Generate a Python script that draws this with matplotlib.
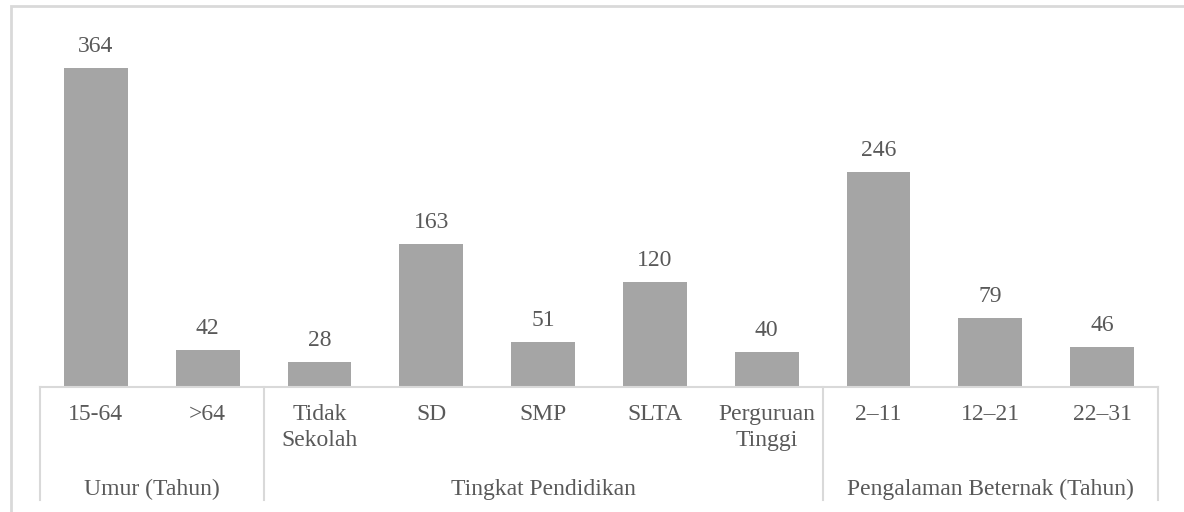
#!/usr/bin/env python3

import matplotlib.pyplot as plt
from matplotlib.transforms import blended_transform_factory
from matplotlib.patches import Rectangle

labels = ['15-64', '>64', 'Tidak\nSekolah', 'SD', 'SMP', 'SLTA',
          'Perguruan\nTinggi', '2\u201311', '12\u201321', '22\u201331']
values = [364, 42, 28, 163, 51, 120, 40, 246, 79, 46]
groups = ['Umur (Tahun)', 'Tingkat Pendidikan', 'Pengalaman Beternak (Tahun)']
group_sizes = [2, 5, 3]

plt.rcParams['font.family'] = ['Liberation Serif', 'DejaVu Serif']
text_col = '#595959'
line_col = '#D9D9D9'
fs = 17

W, H = 1184, 512
fig = plt.figure(figsize=(W / 100, H / 100), dpi=100)

# outer frame like the original chart area
fig.patches.append(Rectangle((11 / W, -0.1), 1.2, (H - 6) / H + 0.1,
                             transform=fig.transFigure, fill=False,
                             edgecolor=line_col, linewidth=2))

ax = fig.add_axes([40 / W, (H - 387) / H, 1118 / W, 381 / H])
x = range(len(values))
ax.bar(x, values, width=0.57, color='#A5A5A5')
ax.set_xlim(-0.5, len(values) - 0.5)
ax.set_ylim(0, 381 / 0.876)

for xi, v in zip(x, values):
    ax.annotate(str(v), (xi, v), xytext=(0, 11.5), textcoords='offset points',
                ha='center', va='baseline', fontsize=fs, color=text_col)

for s in ['top', 'right', 'left']:
    ax.spines[s].set_visible(False)
ax.spines['bottom'].set_color(line_col)
ax.spines['bottom'].set_linewidth(1.5)
ax.set_xticks([])
ax.set_yticks([])

tr = blended_transform_factory(ax.transData, fig.transFigure)
for xi, lab in zip(x, labels):
    ax.text(xi, (H - 404) / H, lab, ha='center', va='top', fontsize=fs,
            color=text_col, transform=tr, linespacing=1.32)

# group separators and group labels
start = 0
bounds = [-0.5]
for g, n in zip(groups, group_sizes):
    end = start + n
    bounds.append(end - 0.5)
    ax.text((start + end - 1) / 2, (H - 495) / H, g, ha='center', va='baseline',
            fontsize=fs, color=text_col, transform=tr)
    start = end
for b in bounds:
    ax.plot([b, b], [(H - 387) / H, (H - 500) / H], color=line_col,
            linewidth=1.5, transform=tr, clip_on=False)

fig.savefig('out.png', dpi=100)
